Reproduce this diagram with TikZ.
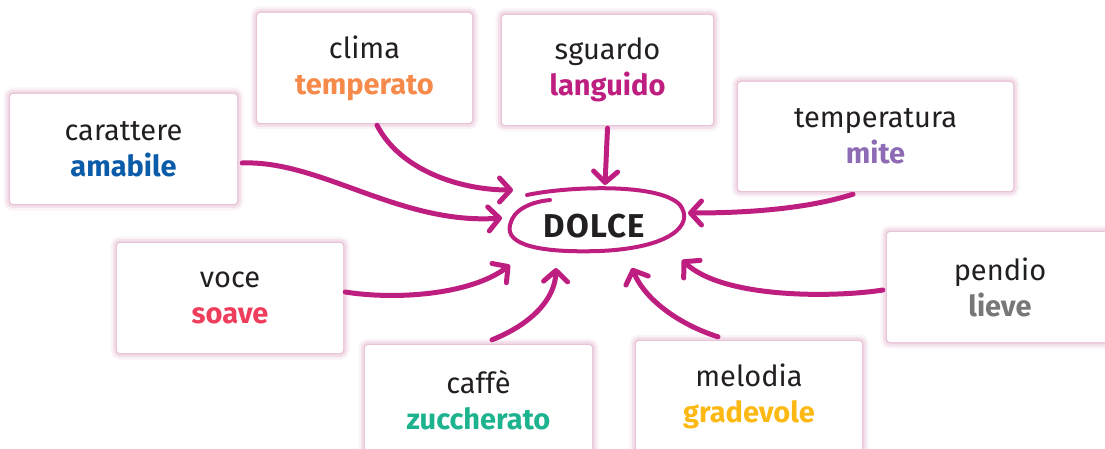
\documentclass[tikz,border=0pt]{standalone}
\usepackage{fontspec}
\setmainfont{Fira Sans}
\usetikzlibrary{arrows.meta}
\definecolor{arrowc}{HTML}{BE1E80}
\definecolor{glowc}{HTML}{D99BBE}
\definecolor{textc}{HTML}{231F20}
\definecolor{bluec}{HTML}{0B5CA8}
\definecolor{orangec}{HTML}{F58A4B}
\definecolor{magentac}{HTML}{BE1E80}
\definecolor{purplec}{HTML}{8E6BB5}
\definecolor{redc}{HTML}{EF3E5C}
\definecolor{greyc}{HTML}{77777A}
\definecolor{greenc}{HTML}{1CB38E}
\definecolor{yellowc}{HTML}{FDB913}
\newcommand{\kw}[2]{{\bfseries\color{#1}#2}}

\begin{document}
\begin{tikzpicture}[x=1pt, y=-1pt,
  box/.style={fill=white, rounded corners=3pt, minimum height=110pt, align=center,
    font=\fontsize{29}{36}\selectfont, text=textc,
    preaction={draw=glowc, line width=13pt, opacity=.12},
    preaction={draw=glowc, line width=8pt, opacity=.22},
    preaction={draw=glowc, line width=3pt, opacity=.4}},
  link/.style={draw=arrowc, line width=5pt, line cap=round,
    -{Straight Barb[length=11pt, width=24pt, round]}}]
\useasboundingbox (0,0) rectangle (1105,449);
% words round the centre
\node[box, minimum width=227pt] (car) at (123.5,149) {carattere\\\kw{bluec}{amabile}};
\node[box, minimum width=215pt] (clima) at (364.5,68) {clima\\\kw{orangec}{temperato}};
\node[box, minimum width=211pt] (sguardo) at (607.5,70) {sguardo\\\kw{magentac}{languido}};
\node[box, minimum width=275pt, minimum height=109pt] (temp) at (875.5,136.5) {temperatura\\\kw{purplec}{mite}};
\node[box, minimum width=226pt] (voce) at (230,298) {voce\\\kw{redc}{soave}};
\node[box, minimum width=226pt] (pendio) at (1000,287) {pendio\\\kw{greyc}{lieve}};
\node[box, minimum width=227pt] (caffe) at (478.5,400) {caff\`e\\\kw{greenc}{zuccherato}};
\node[box, minimum width=226pt] (melodia) at (749,396) {melodia\\\kw{yellowc}{gradevole}};
% centre word
\node[font=\fontsize{33}{33}\selectfont\bfseries, text=textc] (dolce) at (594,226) {\addfontfeature{LetterSpace=4}DOLCE};
\draw[arrowc, line width=4pt, line cap=round] (527,195) .. controls (570,186) and (660,183) .. (680,205)
  .. controls (695,225) and (670,248) .. (600,251) .. controls (540,253) and (505,245) .. (510,225)
  .. controls (513,210) and (530,202) .. (550,200);
% arrows
\draw[link] ([shift={(5,14)}]car.east) .. controls +(78,-3) and +(-102,7) .. ([shift={(-92,-8)}]dolce.center);
\draw[link] ([shift={(12.5,2)}]clima.south) .. controls +(23,45) and +(-53,0) .. ([shift={(-81,-36)}]dolce.center);
\draw[link] ([shift={(0,3)}]sguardo.south) -- ([shift={(11,-41)}]dolce.center);
\draw[link] ([shift={(-22.5,3)}]temp.south) .. controls +(-50,16) and +(50,0) .. ([shift={(94,-13)}]dolce.center);
\draw[link] ([shift={(2,-6)}]voce.east) .. controls +(50,8) and +(-40,30) .. ([shift={(-84,39)}]dolce.center);
\draw[link] ([shift={(-4,3)}]pendio.west) .. controls +(-43,7) and +(43,40) .. ([shift={(88,34)}]dolce.center);
\draw[link] ([shift={(13.5,-5)}]caffe.north) .. controls +(38,-15) and +(-1,32) .. ([shift={(-38,42)}]dolce.center);
\draw[link] ([shift={(-31,-4)}]melodia.north) .. controls +(-38,-12) and +(13,32) .. ([shift={(38,42)}]dolce.center);
\end{tikzpicture}
\end{document}
